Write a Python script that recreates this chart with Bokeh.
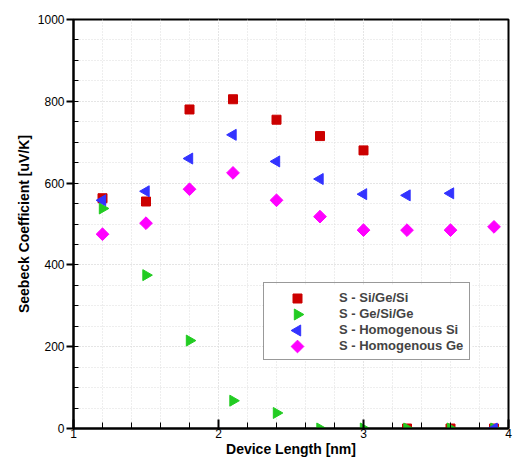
import numpy as np
from bokeh.plotting import figure
from bokeh.models import SingleIntervalTicker, Legend, LegendItem, Range1d
from bokeh.embed import file_html
from bokeh.resources import INLINE

length = [1.2, 1.5, 1.8, 2.1, 2.4, 2.7, 3.0, 3.3, 3.6, 3.9]
s_si_ge_si = [563, 555, 780, 805, 755, 715, 680, 0, 0, 0]
s_ge_si_ge = [538, 375, 215, 68, 38, 0, 0, 0, 0, 0]
s_homo_si = [558, 580, 660, 718, 653, 610, 573, 570, 575, 0]
s_homo_ge = [475, 502, 585, 625, 558, 518, 485, 485, 485, 493]
labels = ["S - Si/Ge/Si", "S - Ge/Si/Ge", "S - Homogenous Si", "S - Homogenous Ge"]

FONT = "Liberation Sans"
FW, FH = 435, 409
X0, X1, Y0, Y1 = 1, 4, 0, 1000

p = figure(frame_width=FW, frame_height=FH, output_backend="svg", toolbar_location=None,
           x_range=Range1d(X0, X1), y_range=Range1d(Y0, Y1),
           min_border_left=73, min_border_right=12, min_border_top=19, min_border_bottom=30)

p.outline_line_color = "black"
p.outline_line_width = 2

p.xaxis.ticker = SingleIntervalTicker(interval=1, num_minor_ticks=5)
p.yaxis.ticker = SingleIntervalTicker(interval=200, num_minor_ticks=4)
p.xgrid.ticker = p.xaxis.ticker
p.ygrid.ticker = p.yaxis.ticker

for ax in (p.xaxis[0], p.yaxis[0]):
    ax.axis_line_color = "black"
    ax.axis_line_width = 2
    ax.major_tick_line_color = "black"
    ax.major_tick_line_width = 2
    ax.minor_tick_line_color = "black"
    ax.minor_tick_line_width = 1
    ax.major_label_text_font = FONT
    ax.major_label_text_font_size = "12px"
    ax.major_label_text_color = "black"
    ax.axis_label_text_font = FONT
    ax.axis_label_text_font_size = "14px"
    ax.axis_label_text_font_style = "bold"
    ax.axis_label_text_color = "black"

p.xaxis.axis_label = "Device Length [nm]"
p.yaxis.axis_label = "Seebeck Coefficient [uV/K]"
p.xaxis.major_tick_in = 9
p.xaxis.major_tick_out = 0
p.xaxis.minor_tick_in = 6
p.xaxis.minor_tick_out = 0
p.xaxis.major_label_standoff = 0
p.xaxis.axis_label_standoff = 0
p.yaxis.major_tick_in = 0
p.yaxis.major_tick_out = 7
p.yaxis.minor_tick_in = 5
p.yaxis.minor_tick_out = 0
p.yaxis.major_label_standoff = 2
p.yaxis.axis_label_standoff = 3

for g in (p.xgrid[0], p.ygrid[0]):
    g.grid_line_color = "#dcdcdc"
    g.grid_line_dash = "1 2"
    g.minor_grid_line_color = "#dcdcdc"
    g.minor_grid_line_dash = "1 2"

RED, GREEN, BLUE, MAG = "#CC0000", "#22CC22", "#3333FF", "#FF00FF"
markers = [("square", 0, 9), ("triangle", -np.pi / 2, 11), ("triangle", np.pi / 2, 11), ("square", np.pi / 4, 9)]
colors = [RED, GREEN, BLUE, MAG]
series = [s_si_ge_si, s_ge_si_ge, s_homo_si, s_homo_ge]

# legend layout (pixels from frame bottom-left)
LEG_X, LEG_Y, PAD, ROW, GW, STANDOFF, LEG_W = 190, 68, 6, 16, 56, 13, 209
leg_h = 2 * PAD + ROW * len(labels)


def to_dx(px):
    return X0 + px / FW * (X1 - X0)


def to_dy(py):
    return Y0 + py / FH * (Y1 - Y0)


# opaque legend background (below the key glyphs)
p.quad(left=[to_dx(LEG_X)], right=[to_dx(LEG_X + LEG_W)], bottom=[to_dy(LEG_Y)], top=[to_dy(LEG_Y + leg_h)],
       fill_color="white", line_color=None)

for (mk, ang, sz), col, ys in zip(markers, colors, series):
    p.scatter(length, ys, marker=mk, angle=ang, size=sz, color=col)

# legend key glyphs (legend keys cannot be rotated, so they are drawn here)
kx_px = LEG_X + PAD + GW / 2
for i, ((mk, ang, sz), col) in enumerate(zip(markers, colors)):
    ky_px = LEG_Y + leg_h - PAD - ROW * (i + 0.5)
    p.scatter([to_dx(kx_px)], [to_dy(ky_px)], marker=mk, angle=ang, size=sz, color=col)

dummy = p.scatter([], [], size=0, fill_alpha=0, line_alpha=0)
legend = Legend(items=[LegendItem(label=l, renderers=[dummy]) for l in labels], location=(LEG_X, LEG_Y))
legend.label_text_font = FONT
legend.label_text_font_size = "13px"
legend.label_text_font_style = "bold"
legend.label_height = ROW
legend.glyph_height = ROW
legend.glyph_width = GW
legend.label_standoff = STANDOFF
legend.spacing = 0
legend.padding = PAD
legend.margin = 0
legend.border_line_color = "#333333"
legend.border_line_width = 1
legend.background_fill_alpha = 0
p.add_layout(legend, "center")

open("out.html", "w").write(file_html(p, INLINE))
